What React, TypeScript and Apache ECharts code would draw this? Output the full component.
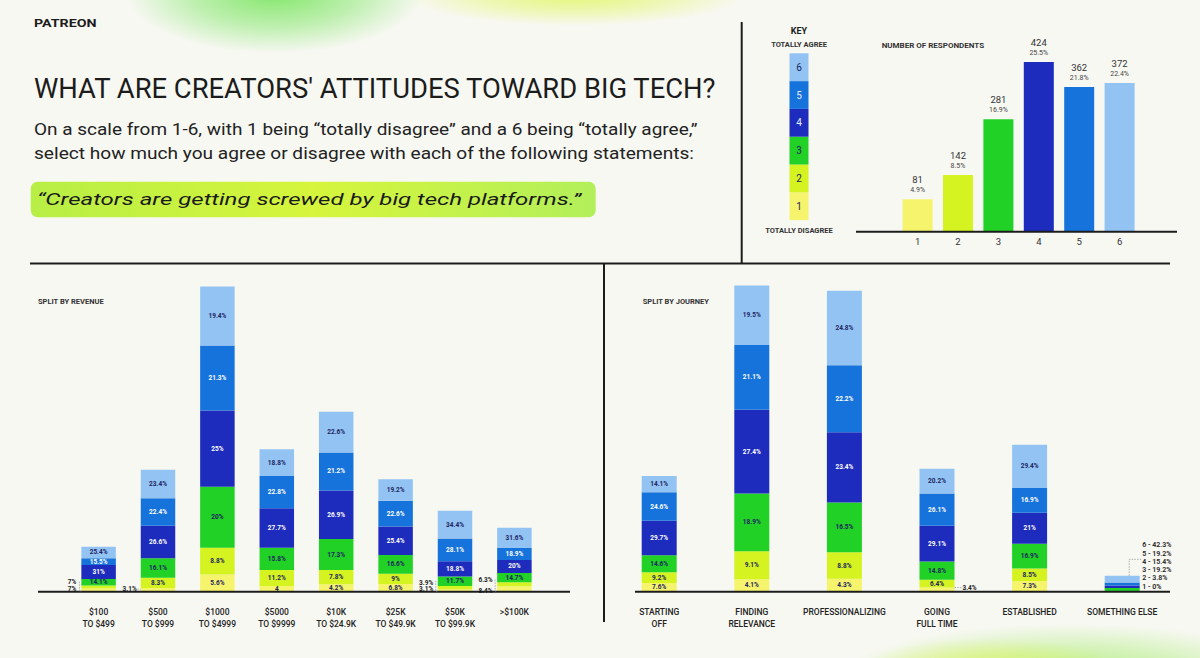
import React, { useEffect, useRef } from 'react';
import * as echarts from 'echarts';

// ---------- data ----------
const LEVELS = ['1', '2', '3', '4', '5', '6'];

const overallCounts = [81, 142, 281, 424, 362, 372];
const overallPcts = [4.9, 8.5, 16.9, 25.5, 21.8, 22.4];

const revenueCategories = [
  '$100\nTO $499', '$500\nTO $999', '$1000\nTO $4999', '$5000\nTO $9999',
  '$10K\nTO $24.9K', '$25K\nTO $49.9K', '$50K\nTO $99.9K', '>$100K',
];
// relative group sizes (bar heights)
const revenueSizes = [45, 122, 305, 142, 180, 113, 81, 64];
const revenueL1 = [7, 3.1, 5.6, 4, 4.2, 6.8, 3.1, 8.4];
const revenueL2 = [7, 8.3, 8.8, 11.2, 7.8, 9, 3.9, 6.3];
const revenueL3 = [14.1, 16.1, 20, 15.8, 17.3, 16.6, 11.7, 14.7];
const revenueL4 = [31, 26.6, 25, 27.7, 26.9, 25.4, 18.8, 20];
const revenueL5 = [15.5, 22.4, 21.3, 22.8, 21.2, 22.6, 28.1, 18.9];
const revenueL6 = [25.4, 23.4, 19.4, 18.8, 22.6, 19.2, 34.4, 31.6];

const journeyCategories = [
  'STARTING\nOFF', 'FINDING\nRELEVANCE', 'PROFESSIONALIZING', 'GOING\nFULL TIME', 'ESTABLISHED', 'SOMETHING ELSE',
];
const journeySizes = [116, 306, 301, 123, 147, 16];
const journeyL1 = [7.6, 4.1, 4.3, 3.4, 7.3, 0];
const journeyL2 = [9.2, 9.1, 8.8, 6.4, 8.5, 3.8];
const journeyL3 = [14.6, 18.9, 16.5, 14.8, 16.9, 19.2];
const journeyL4 = [29.7, 27.4, 23.4, 29.1, 21, 15.4];
const journeyL5 = [24.6, 21.1, 22.2, 26.1, 16.9, 19.2];
const journeyL6 = [14.1, 19.5, 24.8, 20.2, 29.4, 42.3];

const TITLE = "WHAT ARE CREATORS' ATTITUDES TOWARD BIG TECH?";
const SUB1 = 'On a scale from 1-6, with 1 being “totally disagree” and a 6 being “totally agree,”';
const SUB2 = 'select how much you agree or disagree with each of the following statements:';
const QUOTE = '“Creators are getting screwed by big tech platforms.”';

// ---------- styles ----------
const FONT = 'Roboto, "Noto Sans", sans-serif';
const LEVEL_COLORS = ['#f6f46c', '#d4f321', '#21d126', '#1e2cbd', '#1673db', '#93c3f3'];
const LEVEL_TEXT = ['#1d2461', '#1d2461', '#1d2461', '#ffffff', '#ffffff', '#1d2461'];
const INK = '#1c1c1c';

function measure(text: string, font: string): number {
  const ctx = document.createElement('canvas').getContext('2d') as CanvasRenderingContext2D;
  ctx.font = font;
  return ctx.measureText(text).width;
}

function fitText(text: string, x: number, y: number, targetW: number, size: number, weight: string | number = 'normal', italic = false, fill = INK) {
  const w = measure(text, `${italic ? 'italic' : 'normal'} ${weight} ${size}px Roboto`);
  return {
    type: 'text', x, y, scaleX: targetW / w, z: 100, silent: true,
    style: {
      text, fill, fontFamily: FONT, fontSize: size, fontWeight: weight, fontStyle: italic ? 'italic' : 'normal',
      textAlign: 'left', textVerticalAlign: 'middle', verticalAlign: 'middle',
    },
  };
}

function txt(text: string, x: number, y: number, size: number, weight: string | number, align = 'left', fill = INK) {
  return {
    type: 'text', x, y, z: 100, silent: true,
    style: { text, fill, fontFamily: FONT, fontSize: size, fontWeight: weight, textAlign: align, textVerticalAlign: 'middle', verticalAlign: 'middle' },
  };
}

function hline(x1: number, x2: number, y: number, w = 2) {
  return { type: 'line', z: 50, silent: true, shape: { x1, y1: y, x2, y2: y }, style: { stroke: INK, lineWidth: w } };
}
function vline(x: number, y1: number, y2: number, w = 2) {
  return { type: 'line', z: 50, silent: true, shape: { x1: x, y1, x2: x, y2 }, style: { stroke: INK, lineWidth: w } };
}
function dashed(points: number[][]) {
  return {
    type: 'polyline', z: 50, silent: true, shape: { points },
    style: { stroke: '#8a8a8a', lineWidth: 0.7, lineDash: [1.5, 1.2], fill: 'none' },
  };
}
function glow(cx: number, cy: number, rx: number, ry: number, rgb: string, a: number) {
  return {
    type: 'ellipse', z: 0, silent: true, shape: { cx, cy, rx, ry },
    style: {
      fill: new echarts.graphic.RadialGradient(0.5, 0.5, 0.5, [
        { offset: 0, color: `rgba(${rgb},${a})` },
        { offset: 0.55, color: `rgba(${rgb},${a * 0.5})` },
        { offset: 1, color: `rgba(${rgb},0)` },
      ]),
    },
  };
}

function buildStack(gridIndex: number, sizes: number[], rows: number[][], barWidth: number,
  outside: Record<string, any>, hiddenCats: number[], overrides: Record<string, string>) {
  return rows.map((row, li) => ({
    type: 'bar',
    name: `L${LEVELS[li]}-${gridIndex}`,
    stack: `s${gridIndex}`,
    xAxisIndex: gridIndex,
    yAxisIndex: gridIndex,
    barWidth,
    itemStyle: { color: LEVEL_COLORS[li] },
    emphasis: { disabled: true },
    label: {
      show: true, position: 'inside', fontFamily: FONT, fontSize: 6.5, fontWeight: 'bold',
      color: LEVEL_TEXT[li], textBorderWidth: 0,
      formatter: (p: any) => overrides[`${p.dataIndex}-${li}`] ?? `${row[p.dataIndex]}%`,
    },
    data: row.map((pct, ci) => {
      const key = `${ci}-${li}`;
      const item: any = { value: +(sizes[ci] * pct / 100).toFixed(3) };
      if (hiddenCats.includes(ci)) item.label = { show: false };
      else if (outside[key]) item.label = { color: '#222', ...outside[key] };
      return item;
    }),
  }));
}

function buildOption(): any {
  const revenueRows = [revenueL1, revenueL2, revenueL3, revenueL4, revenueL5, revenueL6];
  const journeyRows = [journeyL1, journeyL2, journeyL3, journeyL4, journeyL5, journeyL6];
  const revOutside = {
    '0-0': { position: 'left', distance: 5, offset: [0, -1] },
    '0-1': { position: 'left', distance: 5, offset: [0, -4.5] },
    '1-0': { position: 'left', distance: 4, offset: [0, -0.5] },
    '6-0': { position: 'left', distance: 4.5, offset: [0, -1] },
    '6-1': { position: 'left', distance: 4.5, offset: [0, -5] },
    '7-0': { position: 'left', distance: 4.5, offset: [0, 2] },
    '7-1': { position: 'left', distance: 4.5, offset: [0, -4] },
  };
  const jourOutside = {
    '3-0': { position: 'right', distance: 8, offset: [0, -2] },
  };
  const catAxisLabel = {
    interval: 0, margin: 14, fontSize: 8.5, lineHeight: 12.5, color: '#222', fontWeight: 500, fontFamily: FONT,
  };
  return {
    animation: false,
    backgroundColor: '#f8f8f3',
    grid: [
      { left: 897.4, width: 242.4, top: 31.7, height: 200 },
      { left: 68.9, width: 475.2, top: 271.7, height: 320 },
      { left: 612.9, width: 555.6, top: 271.7, height: 320 },
    ],
    xAxis: [
      { type: 'category', gridIndex: 0, data: LEVELS, axisLine: { show: false }, axisTick: { show: false },
        axisLabel: { margin: 5, fontSize: 9.5, color: '#333', fontFamily: FONT } },
      { type: 'category', gridIndex: 1, data: revenueCategories, axisLine: { show: false }, axisTick: { show: false },
        axisLabel: catAxisLabel },
      { type: 'category', gridIndex: 2, data: journeyCategories, axisLine: { show: false }, axisTick: { show: false },
        axisLabel: catAxisLabel },
    ],
    yAxis: [
      { type: 'value', gridIndex: 0, min: 0, max: 500, show: false },
      { type: 'value', gridIndex: 1, min: 0, max: 320, show: false },
      { type: 'value', gridIndex: 2, min: 0, max: 320, show: false },
    ],
    series: [
      {
        type: 'bar', name: 'respondents', xAxisIndex: 0, yAxisIndex: 0, barWidth: 30,
        emphasis: { disabled: true },
        data: overallCounts.map((v, i) => ({ value: v, itemStyle: { color: LEVEL_COLORS[i] } })),
        label: {
          show: true, position: 'top', distance: 4,
          formatter: (p: any) => `{a|${p.value}}\n{b|${overallPcts[p.dataIndex]}%}`,
          rich: {
            a: { fontSize: 9.5, color: '#333', lineHeight: 10.5, fontFamily: FONT, align: 'center' },
            b: { fontSize: 7, color: '#444', lineHeight: 10.5, fontFamily: FONT, align: 'center' },
          },
        },
      },
      ...buildStack(1, revenueSizes, revenueRows, 34.5, revOutside, [], { '3-0': '4' }),
      ...buildStack(2, journeySizes, journeyRows, 35, jourOutside, [5], {}),
    ],
  };
}

function buildGraphics(chart: any): any[] {
  const g: any[] = [];
  // background glows
  g.push(glow(275, -8, 150, 62, '100,226,70', 0.8));
  g.push(glow(575, -4, 170, 30, '220,246,70', 0.7));
  g.push(glow(1070, 678, 230, 55, '140,232,70', 0.65));
  g.push(glow(990, 668, 130, 30, '228,246,80', 0.6));

  // header texts
  g.push(fitText('PATREON', 34, 23.5, 62.7, 11, 'bold'));
  g.push(fitText(TITLE, 34, 88.5, 683, 28, 'normal'));
  g.push(fitText(SUB1, 34, 129, 664, 17, 'normal', false, '#222'));
  g.push(fitText(SUB2, 34, 152.5, 660, 17, 'normal', false, '#222'));
  g.push({
    type: 'rect', z: 5, silent: true,
    shape: { x: 30.7, y: 181.7, width: 565, height: 35.6, r: 7 },
    style: {
      fill: new echarts.graphic.LinearGradient(0, 0, 1, 0, [
        { offset: 0, color: '#b8ee45' },
        { offset: 0.5, color: '#d6f53c' },
        { offset: 1, color: '#b2ef5a' },
      ]),
    },
  });
  g.push(fitText(QUOTE, 37, 199.5, 544.6, 17, 'normal', true, '#1a1a1a'));

  // dividers
  g.push(vline(741.7, 22, 264));
  g.push(hline(30, 1170, 263.5));
  g.push(vline(604, 263.5, 622));

  // key
  g.push(txt('KEY', 799, 31, 9, 'bold', 'center'));
  g.push(txt('TOTALLY AGREE', 799, 44, 7.5, 'bold', 'center', '#333'));
  g.push(txt('TOTALLY DISAGREE', 799, 230.7, 7.5, 'bold', 'center', '#333'));
  const keyH = 27.8;
  for (let li = 0; li < 6; li++) {
    const y = 53.3 + (5 - li) * keyH;
    g.push({ type: 'rect', z: 5, silent: true, shape: { x: 789.5, y, width: 19, height: keyH }, style: { fill: LEVEL_COLORS[li] } });
    g.push(txt(LEVELS[li], 799, y + keyH / 2, 10, 'normal', 'center', li === 3 || li === 4 ? '#e6ecfb' : '#1d2461'));
  }

  // chart titles
  g.push(txt('NUMBER OF RESPONDENTS', 881.7, 45, 8, 'bold', 'left', '#333'));
  g.push(txt('SPLIT BY REVENUE', 38, 301, 7.5, 'bold', 'left', '#333'));
  g.push(txt('SPLIT BY JOURNEY', 642.7, 301.3, 7.5, 'bold', 'left', '#333'));

  // axis lines
  const topBase = chart.convertToPixel({ gridIndex: 0 }, [0, 0])[1];
  g.push(hline(856, 1177, topBase));
  const revBase = chart.convertToPixel({ gridIndex: 1 }, [0, 0])[1];
  g.push(hline(38, 570, revBase));
  const jBase = chart.convertToPixel({ gridIndex: 2 }, [0, 0])[1];
  g.push(hline(635, 1170, jBase));

  // leader lines for small revenue segments
  const revHalf = 34.5 / 2;
  const bracket = (ci: number, yTop: number) => {
    const x = chart.convertToPixel({ gridIndex: 1 }, [ci, 0])[0] - revHalf - 2;
    g.push(dashed([[x, revBase - yTop], [x, revBase - 0.5], [x + 2, revBase - 0.5]]));
  };
  bracket(0, 10);
  bracket(6, 11);
  bracket(7, 12);
  {
    const x = chart.convertToPixel({ gridIndex: 1 }, [1, 0])[0] - revHalf;
    g.push(dashed([[x - 3.5, revBase - 2.5], [x, revBase - 2.5]]));
  }

  // going full time leader
  {
    const jHalf = 35 / 2;
    const x = chart.convertToPixel({ gridIndex: 2 }, [3, 0])[0] + jHalf;
    const y = jBase - (journeySizes[3] * journeyL1[3] / 100) / 2 - 2;
    g.push(dashed([[x, y], [x + 7, y]]));
  }

  // something else list
  {
    const jHalf = 35 / 2;
    const [cx, base] = chart.convertToPixel({ gridIndex: 2 }, [5, 0]);
    const top = chart.convertToPixel({ gridIndex: 2 }, [5, journeySizes[5]])[1];
    const right = cx + jHalf;
    const rows = [journeyL1, journeyL2, journeyL3, journeyL4, journeyL5, journeyL6];
    const ys: number[] = [];
    for (let li = 0; li < 6; li++) {
      const y = base - 5 - li * 8.3;
      ys.push(y);
      g.push(txt(`${LEVELS[li]} - ${rows[li][5]}%`, right + 2.5, y, 7, 600, 'left', '#222'));
    }
    g.push(dashed([[cx + 7, top], [cx + 7, ys[3] - 2.5], [right + 1.5, ys[3] - 2.5]]));
  }
  return g;
}

export default function App() {
  const ref = useRef<HTMLDivElement>(null);
  useEffect(() => {
    const el = ref.current as HTMLDivElement;
    const chart = echarts.init(el, undefined, { renderer: 'svg' });
    chart.setOption(buildOption());
    chart.setOption({ graphic: { elements: buildGraphics(chart) } });
    return () => chart.dispose();
  }, []);
  return (
    <div
      ref={ref}
      style={{ position: 'fixed', left: 0, top: 0, width: 1200, height: 658, background: '#f8f8f3' }}
    />
  );
}
